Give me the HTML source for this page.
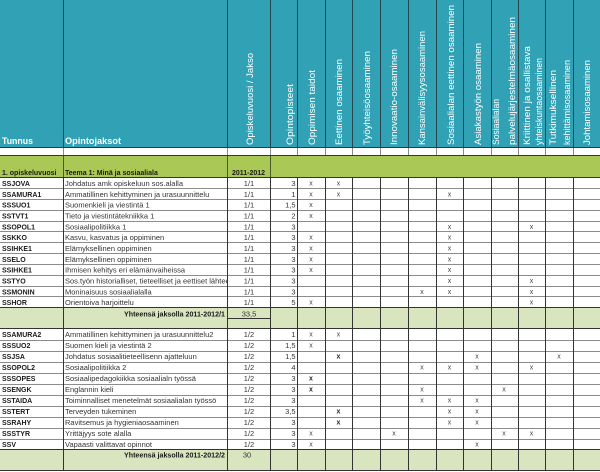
<!DOCTYPE html>
<html><head><meta charset="utf-8"><style>
html,body{margin:0;padding:0;background:#fff;}
svg{display:block;}
.h{fill:#fff;font-family:"Liberation Sans",sans-serif;font-size:9.5px;}
.hb{fill:#fff;font-family:"Liberation Sans",sans-serif;font-size:9.5px;font-weight:bold;}
.c{fill:#1a1a1a;font-family:"Liberation Sans",sans-serif;font-size:7px;font-weight:bold;}
.n{fill:#333;font-family:"Liberation Sans",sans-serif;font-size:7.5px;}
.m{fill:#333;font-family:"Liberation Sans",sans-serif;font-size:7.5px;text-anchor:middle;}
.r{fill:#333;font-family:"Liberation Sans",sans-serif;font-size:7.5px;text-anchor:end;}
.x{fill:#444;font-family:"Liberation Sans",sans-serif;font-size:7px;text-anchor:middle;}
.xb{fill:#222;font-family:"Liberation Sans",sans-serif;font-size:7px;font-weight:bold;text-anchor:middle;}
.b{fill:#1a1a1a;font-family:"Liberation Sans",sans-serif;font-size:7px;font-weight:bold;}
</style></head><body>
<svg width="600" height="472" viewBox="0 0 600 472" xmlns="http://www.w3.org/2000/svg">
<defs><clipPath id="nc"><rect x="63" y="0" width="164" height="472"/></clipPath></defs>
<rect x="0" y="0" width="600" height="472" fill="#fff"/>
<rect x="0" y="0" width="600" height="147" fill="#31a2b5"/>
<rect x="0" y="156" width="600" height="22" fill="#aac855"/>
<rect x="0" y="308" width="600" height="21" fill="#d9e5be"/>
<rect x="0" y="450" width="600" height="21" fill="#d9e5be"/>

<!-- header labels -->
<text class="hb" x="2" y="144" textLength="31" lengthAdjust="spacingAndGlyphs">Tunnus</text>
<text class="hb" x="65" y="144" textLength="56" lengthAdjust="spacingAndGlyphs">Opintojaksot</text>
<g class="h">
<text transform="translate(253,145) rotate(-90)" textLength="92" lengthAdjust="spacingAndGlyphs">Opiskeluvuosi / Jakso</text>
<text transform="translate(293,145) rotate(-90)" textLength="61" lengthAdjust="spacingAndGlyphs">Opintopisteet</text>
<text transform="translate(315,145) rotate(-90)" textLength="75" lengthAdjust="spacingAndGlyphs">Oppimisen taidot</text>
<text transform="translate(342,145) rotate(-90)" textLength="86" lengthAdjust="spacingAndGlyphs">Eettinen osaaminen</text>
<text transform="translate(370,145) rotate(-90)" textLength="94" lengthAdjust="spacingAndGlyphs">Työyhteisöosaaminen</text>
<text transform="translate(397,145) rotate(-90)" textLength="96" lengthAdjust="spacingAndGlyphs">Innovaatio-osaaminen</text>
<text transform="translate(425,145) rotate(-90)" textLength="114" lengthAdjust="spacingAndGlyphs">Kansainvälisyysosaaminen</text>
<text transform="translate(454,145) rotate(-90)" textLength="140" lengthAdjust="spacingAndGlyphs">Sosiaalialan eettinen osaaminen</text>
<text transform="translate(481,145) rotate(-90)" textLength="102" lengthAdjust="spacingAndGlyphs">Asiakastyön osaaminen</text>
<text transform="translate(499,145) rotate(-90)" textLength="46" lengthAdjust="spacingAndGlyphs">Sosiaalialan</text>
<text transform="translate(515,145) rotate(-90)" textLength="128" lengthAdjust="spacingAndGlyphs">palvelujärjestelmäosaaminen</text>
<text transform="translate(530,145) rotate(-90)" textLength="99" lengthAdjust="spacingAndGlyphs">Kriittinen ja osallistava</text>
<text transform="translate(542,145) rotate(-90)" textLength="87" lengthAdjust="spacingAndGlyphs">yhteiskuntaosaaminen</text>
<text transform="translate(556,145) rotate(-90)" textLength="75" lengthAdjust="spacingAndGlyphs">Tutkimuksellinen</text>
<text transform="translate(570,145) rotate(-90)" textLength="85" lengthAdjust="spacingAndGlyphs">kehittämisosaaminen</text>
<text transform="translate(590,145) rotate(-90)" textLength="85" lengthAdjust="spacingAndGlyphs">Johtamisosaaminen</text>
</g>

<!-- green row -->
<text class="b" x="2" y="175">1. opiskeluvuosi</text>
<text class="b" x="65" y="175">Teema 1: Minä ja sosiaaliala</text>
<text class="b" x="248.5" y="175" text-anchor="middle">2011-2012</text>

<!-- block 1 -->
<g>
<text class="c" x="2" y="186">SSJOVA</text>
<text class="c" x="2" y="196.8">SSAMURA1</text>
<text class="c" x="2" y="207.7">SSSUO1</text>
<text class="c" x="2" y="218.5">SSTVT1</text>
<text class="c" x="2" y="229.3">SSOPOL1</text>
<text class="c" x="2" y="240.2">SSKKO</text>
<text class="c" x="2" y="251">SSIHKE1</text>
<text class="c" x="2" y="261.8">SSELO</text>
<text class="c" x="2" y="272.7">SSIHKE1</text>
<text class="c" x="2" y="283.5">SSTYO</text>
<text class="c" x="2" y="294.3">SSMONIN</text>
<text class="c" x="2" y="305.2">SSHOR</text>
</g>
<g clip-path="url(#nc)">
<text class="n" x="65" y="186">Johdatus amk opiskeluun sos.alalla</text>
<text class="n" x="65" y="196.8">Ammatillinen kehittyminen ja urasuunnittelu</text>
<text class="n" x="65" y="207.7">Suomenkieli ja viestintä 1</text>
<text class="n" x="65" y="218.5">Tieto ja viestintätekniikka 1</text>
<text class="n" x="65" y="229.3">Sosiaalipolitiikka 1</text>
<text class="n" x="65" y="240.2">Kasvu, kasvatus ja oppiminen</text>
<text class="n" x="65" y="251">Elämyksellinen oppiminen</text>
<text class="n" x="65" y="261.8">Elämyksellinen oppiminen</text>
<text class="n" x="65" y="272.7">Ihmisen kehitys eri elämänvaiheissa</text>
<text class="n" x="65" y="283.5">Sos.työn historialliset, tieteelliset ja eettiset lähteet</text>
<text class="n" x="65" y="294.3">Moninaisuus sosiaalialalla</text>
<text class="n" x="65" y="305.2">Orientoiva harjoittelu</text>
</g>
<g>
<text class="m" x="249" y="186">1/1</text><text class="r" x="295.5" y="186">3</text>
<text class="m" x="249" y="196.8">1/1</text><text class="r" x="295.5" y="196.8">1</text>
<text class="m" x="249" y="207.7">1/1</text><text class="r" x="295.5" y="207.7">1,5</text>
<text class="m" x="249" y="218.5">1/1</text><text class="r" x="295.5" y="218.5">2</text>
<text class="m" x="249" y="229.3">1/1</text><text class="r" x="295.5" y="229.3">3</text>
<text class="m" x="249" y="240.2">1/1</text><text class="r" x="295.5" y="240.2">3</text>
<text class="m" x="249" y="251">1/1</text><text class="r" x="295.5" y="251">3</text>
<text class="m" x="249" y="261.8">1/1</text><text class="r" x="295.5" y="261.8">3</text>
<text class="m" x="249" y="272.7">1/1</text><text class="r" x="295.5" y="272.7">3</text>
<text class="m" x="249" y="283.5">1/1</text><text class="r" x="295.5" y="283.5">3</text>
<text class="m" x="249" y="294.3">1/1</text><text class="r" x="295.5" y="294.3">3</text>
<text class="m" x="249" y="305.2">1/1</text><text class="r" x="295.5" y="305.2">5</text>
</g>
<g>
<text class="x" x="311" y="185.5">x</text><text class="x" x="338.5" y="185.5">x</text>
<text class="x" x="311" y="196.3">x</text><text class="x" x="338.5" y="196.3">x</text><text class="x" x="449.5" y="196.3">x</text>
<text class="x" x="311" y="207.2">x</text>
<text class="x" x="311" y="218">x</text>
<text class="x" x="449.5" y="228.8">x</text><text class="x" x="531.5" y="228.8">x</text>
<text class="x" x="311" y="239.7">x</text><text class="x" x="449.5" y="239.7">x</text>
<text class="x" x="311" y="250.5">x</text><text class="x" x="449.5" y="250.5">x</text>
<text class="x" x="311" y="261.3">x</text><text class="x" x="449.5" y="261.3">x</text>
<text class="x" x="311" y="272.2">x</text><text class="x" x="449.5" y="272.2">x</text>
<text class="x" x="449.5" y="283">x</text><text class="x" x="531.5" y="283">x</text>
<text class="x" x="422" y="293.8">x</text><text class="x" x="449.5" y="293.8">x</text><text class="x" x="531.5" y="293.8">x</text>
<text class="x" x="311" y="304.7">x</text><text class="x" x="531.5" y="304.7">x</text>
</g>

<!-- summary 1 -->
<text class="b" x="225" y="316.5" text-anchor="end" textLength="101" lengthAdjust="spacingAndGlyphs">Yhteensä jaksolla 2011-2012/1</text>
<text class="m" x="249" y="316.5">33,5</text>

<!-- block 2 -->
<g>
<text class="c" x="2" y="337">SSAMURA2</text>
<text class="c" x="2" y="348">SSSUO2</text>
<text class="c" x="2" y="359">SSJSA</text>
<text class="c" x="2" y="370">SSOPOL2</text>
<text class="c" x="2" y="381">SSSOPES</text>
<text class="c" x="2" y="392">SSENGK</text>
<text class="c" x="2" y="403">SSTAIDA</text>
<text class="c" x="2" y="414">SSTERT</text>
<text class="c" x="2" y="425">SSRAHY</text>
<text class="c" x="2" y="436">SSSTYR</text>
<text class="c" x="2" y="447">SSV</text>
</g>
<g clip-path="url(#nc)">
<text class="n" x="65" y="337">Ammatillinen kehittyminen ja urasuunnittelu2</text>
<text class="n" x="65" y="348">Suomen kieli ja viestintä 2</text>
<text class="n" x="65" y="359">Johdatus sosiaalitieteellisenn ajatteluun</text>
<text class="n" x="65" y="370">Sosiaalipolitiikka 2</text>
<text class="n" x="65" y="381">Sosiaalipedagokiikka sosiaalialn työssä</text>
<text class="n" x="65" y="392">Englannin kieli</text>
<text class="n" x="65" y="403">Toiminnalliset menetelmät sosiaalialan työssö</text>
<text class="n" x="65" y="414">Terveyden tukeminen</text>
<text class="n" x="65" y="425">Ravitsemus ja hygieniaosaaminen</text>
<text class="n" x="65" y="436">Yrittäjyys sote alalla</text>
<text class="n" x="65" y="447">Vapaasti valittavat opinnot</text>
</g>
<g>
<text class="m" x="249" y="337">1/2</text><text class="r" x="295.5" y="337">1</text>
<text class="m" x="249" y="348">1/2</text><text class="r" x="295.5" y="348">1,5</text>
<text class="m" x="249" y="359">1/2</text><text class="r" x="295.5" y="359">1,5</text>
<text class="m" x="249" y="370">1/2</text><text class="r" x="295.5" y="370">4</text>
<text class="m" x="249" y="381">1/2</text><text class="r" x="295.5" y="381">3</text>
<text class="m" x="249" y="392">1/2</text><text class="r" x="295.5" y="392">3</text>
<text class="m" x="249" y="403">1/2</text><text class="r" x="295.5" y="403">3</text>
<text class="m" x="249" y="414">1/2</text><text class="r" x="295.5" y="414">3,5</text>
<text class="m" x="249" y="425">1/2</text><text class="r" x="295.5" y="425">3</text>
<text class="m" x="249" y="436">1/2</text><text class="r" x="295.5" y="436">3</text>
<text class="m" x="249" y="447">1/2</text><text class="r" x="295.5" y="447">3</text>
</g>
<g>
<text class="x" x="311" y="336.5">x</text><text class="x" x="338.5" y="336.5">x</text>
<text class="x" x="311" y="347.5">x</text>
<text class="xb" x="338.5" y="358.5">x</text><text class="x" x="477" y="358.5">x</text><text class="x" x="559" y="358.5">x</text>
<text class="x" x="422" y="369.5">x</text><text class="x" x="449.5" y="369.5">x</text><text class="x" x="477" y="369.5">x</text><text class="x" x="531.5" y="369.5">x</text>
<text class="xb" x="311" y="380.5">x</text>
<text class="xb" x="311" y="391.5">x</text><text class="x" x="422" y="391.5">x</text><text class="x" x="504" y="391.5">x</text>
<text class="x" x="422" y="402.5">x</text><text class="x" x="449.5" y="402.5">x</text><text class="x" x="477" y="402.5">x</text>
<text class="xb" x="338.5" y="413.5">x</text><text class="x" x="449.5" y="413.5">x</text><text class="x" x="477" y="413.5">x</text>
<text class="xb" x="338.5" y="424.5">x</text><text class="x" x="449.5" y="424.5">x</text><text class="x" x="477" y="424.5">x</text>
<text class="x" x="311" y="435.5">x</text><text class="x" x="394" y="435.5">x</text><text class="x" x="504" y="435.5">x</text><text class="x" x="531.5" y="435.5">x</text>
<text class="x" x="311" y="446.5">x</text><text class="x" x="477" y="446.5">x</text>
</g>

<!-- summary 2 -->
<text class="b" x="225" y="457.5" text-anchor="end" textLength="101" lengthAdjust="spacingAndGlyphs">Yhteensä jaksolla 2011-2012/2</text>
<text class="m" x="247" y="457.5">30</text>

<!-- grid lines -->
<g shape-rendering="crispEdges" stroke-width="1">
<!-- header verticals -->
<g stroke="#25474f">
<line x1="63.5" y1="0" x2="63.5" y2="147"/><line x1="227.5" y1="0" x2="227.5" y2="147"/>
<line x1="270.5" y1="0" x2="270.5" y2="147"/><line x1="297.5" y1="0" x2="297.5" y2="147"/>
<line x1="325.5" y1="0" x2="325.5" y2="147"/><line x1="352.5" y1="0" x2="352.5" y2="147"/>
<line x1="380.5" y1="0" x2="380.5" y2="147"/><line x1="408.5" y1="0" x2="408.5" y2="147"/>
<line x1="436.5" y1="0" x2="436.5" y2="147"/><line x1="463.5" y1="0" x2="463.5" y2="147"/>
<line x1="491.5" y1="0" x2="491.5" y2="147"/><line x1="518.5" y1="0" x2="518.5" y2="147"/>
<line x1="545.5" y1="0" x2="545.5" y2="147"/><line x1="573.5" y1="0" x2="573.5" y2="147"/>
</g>
<!-- white row verticals -->
<g stroke="#8a8a8a">
<line x1="63.5" y1="147" x2="63.5" y2="156"/><line x1="227.5" y1="147" x2="227.5" y2="156"/>
<line x1="270.5" y1="147" x2="270.5" y2="156"/><line x1="297.5" y1="147" x2="297.5" y2="156"/>
<line x1="325.5" y1="147" x2="325.5" y2="156"/><line x1="352.5" y1="147" x2="352.5" y2="156"/>
<line x1="380.5" y1="147" x2="380.5" y2="156"/><line x1="408.5" y1="147" x2="408.5" y2="156"/>
<line x1="436.5" y1="147" x2="436.5" y2="156"/><line x1="463.5" y1="147" x2="463.5" y2="156"/>
<line x1="491.5" y1="147" x2="491.5" y2="156"/><line x1="518.5" y1="147" x2="518.5" y2="156"/>
<line x1="545.5" y1="147" x2="545.5" y2="156"/><line x1="573.5" y1="147" x2="573.5" y2="156"/>
</g>
<!-- green row verticals -->
<g stroke="#4a5a2a">
<line x1="63.5" y1="156" x2="63.5" y2="178"/><line x1="227.5" y1="156" x2="227.5" y2="178"/>
<line x1="270.5" y1="156" x2="270.5" y2="178"/>
</g>
<!-- data horizontal separators -->
<g stroke="#8c8c8c">
<line x1="0" y1="188.5" x2="600" y2="188.5"/><line x1="0" y1="199.5" x2="600" y2="199.5"/>
<line x1="0" y1="210.5" x2="600" y2="210.5"/><line x1="0" y1="221.5" x2="600" y2="221.5"/>
<line x1="0" y1="231.5" x2="600" y2="231.5"/><line x1="0" y1="242.5" x2="600" y2="242.5"/>
<line x1="0" y1="253.5" x2="600" y2="253.5"/><line x1="0" y1="264.5" x2="600" y2="264.5"/>
<line x1="0" y1="275.5" x2="600" y2="275.5"/><line x1="0" y1="286.5" x2="600" y2="286.5"/>
<line x1="0" y1="296.5" x2="600" y2="296.5"/>
<line x1="0" y1="340.5" x2="600" y2="340.5"/><line x1="0" y1="351.5" x2="600" y2="351.5"/>
<line x1="0" y1="362.5" x2="600" y2="362.5"/><line x1="0" y1="373.5" x2="600" y2="373.5"/>
<line x1="0" y1="384.5" x2="600" y2="384.5"/><line x1="0" y1="395.5" x2="600" y2="395.5"/>
<line x1="0" y1="406.5" x2="600" y2="406.5"/><line x1="0" y1="417.5" x2="600" y2="417.5"/>
<line x1="0" y1="428.5" x2="600" y2="428.5"/><line x1="0" y1="439.5" x2="600" y2="439.5"/>
</g>
<!-- data / summary verticals -->
<g stroke="#333">
<line x1="63.5" y1="178" x2="63.5" y2="471"/><line x1="227.5" y1="178" x2="227.5" y2="471"/>
<line x1="270.5" y1="178" x2="270.5" y2="471"/><line x1="297.5" y1="178" x2="297.5" y2="471"/>
<line x1="325.5" y1="178" x2="325.5" y2="471"/><line x1="352.5" y1="178" x2="352.5" y2="471"/>
<line x1="380.5" y1="178" x2="380.5" y2="471"/><line x1="408.5" y1="178" x2="408.5" y2="471"/>
<line x1="436.5" y1="178" x2="436.5" y2="471"/><line x1="463.5" y1="178" x2="463.5" y2="471"/>
<line x1="491.5" y1="178" x2="491.5" y2="471"/><line x1="518.5" y1="178" x2="518.5" y2="471"/>
<line x1="545.5" y1="178" x2="545.5" y2="471"/><line x1="573.5" y1="178" x2="573.5" y2="471"/>
</g>
<!-- major horizontals -->
<g stroke="#333">
<line x1="0" y1="147.5" x2="600" y2="147.5"/>
<line x1="0" y1="155.5" x2="600" y2="155.5"/>
<line x1="0" y1="177.5" x2="600" y2="177.5"/>
<line x1="0" y1="307.5" x2="600" y2="307.5"/>
<line x1="0" y1="328.5" x2="600" y2="328.5"/>
<line x1="0" y1="449.5" x2="600" y2="449.5"/>
<line x1="0" y1="470.5" x2="600" y2="470.5"/>
<line x1="227" y1="318.5" x2="270" y2="318.5"/>
</g>
</g>
</svg>
</body></html>
